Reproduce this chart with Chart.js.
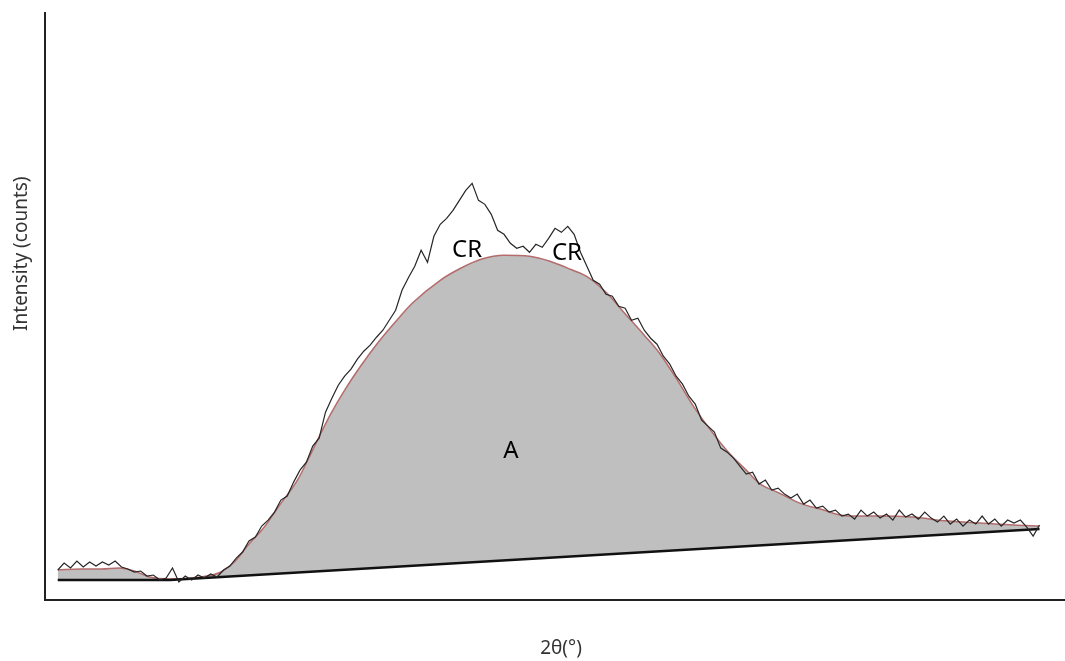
<!DOCTYPE html>
<html>
<head>
<meta charset="utf-8">
<script src="https://cdn.jsdelivr.net/npm/chart.js@4"></script>
<style>
  body { margin: 0; background: #fff; }
  canvas { display: block; }
</style>
</head>
<body>
<canvas id="xrdChart" width="1065" height="661"></canvas>
<script>
// measured pattern, 2theta from 5.5 deg in 0.25 deg steps
var thetaStart = 5.5;
var thetaStep = 0.25;
var measured = [
  60, 74, 64, 78, 66, 76, 68, 76, 70, 78, 66, 62, 56, 58, 48, 50, 40, 44, 64, 36,
  48, 40, 50, 44, 52, 46, 60, 68, 84, 96, 118, 126, 148, 160, 176, 200, 208, 236, 260, 276,
  308, 324, 376, 404, 430, 448, 462, 482, 498, 510, 526, 540, 560, 580, 620, 645, 668, 700, 676, 728,
  752, 764, 780, 800, 820, 834, 800, 792, 772, 740, 732, 714, 704, 708, 696, 712, 706, 724, 744, 736,
  748, 732, 696, 668, 640, 632, 612, 608, 588, 584, 560, 564, 540, 524, 512, 488, 472, 448, 432, 408,
  392, 360, 348, 336, 304, 296, 284, 268, 252, 256, 232, 240, 220, 224, 212, 204, 212, 192, 200, 184,
  188, 176, 180, 168, 172, 162, 180, 168, 176, 164, 172, 160, 180, 166, 172, 162, 176, 164, 156, 168,
  152, 162, 148, 160, 152, 168, 152, 162, 148, 160, 154, 160, 146, 128, 150
];

// amorphous fit (smooth curve)
var fitTheta = [5.5, 6.4, 7.2, 7.9, 8.5, 9.1, 9.9, 11.1, 11.9, 12.5, 12.9, 13.6, 14.2, 14.9, 15.4, 15.8, 16.2, 16.8, 17.4, 18.1,
  18.9, 19.4, 20.5, 21.3, 22.1, 23.0, 24.0, 24.8, 25.6, 26.3, 27.0, 27.8, 28.5, 29.1, 29.8, 30.4, 31.1, 31.8, 32.5, 33.0,
  33.8, 34.6, 35.4, 36.5, 37.8, 39.0, 40.4, 41.7, 43.0, 44.0];
var fitCounts = [60, 62, 62, 64, 58, 46, 42, 46, 56, 80, 106, 146, 190, 240, 290, 332, 372, 424, 470, 518,
  566, 594, 640, 664, 682, 690, 688, 678, 662, 646, 616, 570, 530, 494, 440, 390, 340, 296, 260, 234,
  214, 194, 182, 168, 168, 166, 158, 154, 150, 148];

// background line
var baseTheta = [5.5, 9.9, 44.0];
var baseCounts = [40, 40, 142];

// region labels
var labelText = ['CR', 'CR', 'A'];
var labelTheta = [21.55, 25.47, 23.27];
var labelCounts = [700, 694, 298];

function toPoints(xs, ys) {
  var pts = [];
  for (var i = 0; i < ys.length; i++) {
    pts.push({ x: xs[i], y: ys[i] });
  }
  return pts;
}

var measuredPts = measured.map(function (v, i) {
  return { x: thetaStart + i * thetaStep, y: v };
});

var textPlugin = {
  id: 'textPlugin',
  afterDraw: function (chart) {
    var c = chart.ctx;
    var xs = chart.scales.x, ys = chart.scales.y;
    var area = chart.chartArea;
    c.save();
    c.fillStyle = '#000';
    c.textAlign = 'center';
    c.textBaseline = 'middle';
    c.font = '24px "Noto Sans"';
    for (var i = 0; i < labelText.length; i++) {
      c.fillText(labelText[i], xs.getPixelForValue(labelTheta[i]), ys.getPixelForValue(labelCounts[i]));
    }
    // axis titles
    c.fillStyle = '#333';
    c.font = '19px "Noto Sans"';
    c.fillText('2θ(°)', (area.left + area.right) / 2 + 6, chart.height - 12);
    c.translate(22, area.top + (area.bottom - area.top) * 0.41);
    c.rotate(-Math.PI / 2);
    c.font = '19px "Noto Sans"';
    c.fillText('Intensity (counts)', 0, 0);
    c.restore();
  }
};

var ctx = document.getElementById('xrdChart').getContext('2d');
var chart = new Chart(ctx, {
  type: 'line',
  data: {
    datasets: [{
      label: 'Measured',
      data: measuredPts,
      borderColor: '#262626',
      borderWidth: 1.2,
      pointRadius: 0,
      tension: 0,
      fill: false
    }, {
      label: 'Background',
      data: toPoints(baseTheta, baseCounts),
      borderColor: '#111',
      borderWidth: 2.5,
      pointRadius: 0,
      tension: 0,
      fill: false
    }, {
      label: 'Amorphous',
      data: toPoints(fitTheta, fitCounts),
      borderColor: '#b46c6c',
      borderWidth: 1.5,
      backgroundColor: '#bfbfbf',
      pointRadius: 0,
      cubicInterpolationMode: 'monotone',
      fill: '-1'
    }]
  },
  options: {
    responsive: false,
    animation: false,
    layout: { padding: { left: 45, top: 13, right: 0, bottom: 61 } },
    plugins: {
      legend: { display: false },
      tooltip: { enabled: false }
    },
    scales: {
      x: {
        type: 'linear',
        min: 5,
        max: 45,
        ticks: { display: false },
        grid: { display: false, drawTicks: false },
        border: { display: true, color: '#222', width: 2 }
      },
      y: {
        min: 0,
        max: 1175,
        ticks: { display: false },
        grid: { display: false, drawTicks: false },
        border: { display: true, color: '#222', width: 2 }
      }
    }
  },
  plugins: [textPlugin]
});
</script>
</body>
</html>
